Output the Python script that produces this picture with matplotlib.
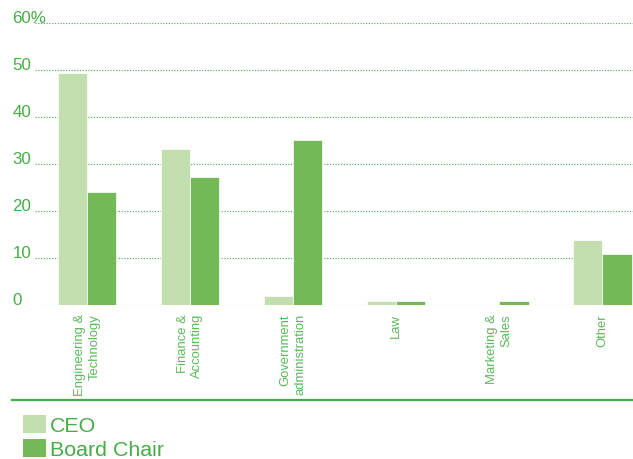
import matplotlib
matplotlib.use("Agg")
import matplotlib.pyplot as plt
import matplotlib.transforms as mtransforms
from matplotlib.patches import Rectangle
from matplotlib.lines import Line2D
import numpy as np

plt.rcParams['font.family'] = ['Liberation Sans', 'DejaVu Sans']

categories = ["Engineering &\nTechnology", "Finance &\nAccounting",
              "Government\nadministration", "Law", "Marketing &\nSales", "Other"]
ceo = [49.5, 33.3, 1.9, 1, 0, 13.9]
board_chair = [24.1, 27.2, 35.2, 1, 1, 10.9]
y_ticks = [0, 10, 20, 30, 40, 50, 60]
y_tick_labels = ["0", "10", "20", "30", "40", "50", "60%"]
series_names = ["CEO", "Board Chair"]

W, H = 633, 459
TEXT_GREEN = "#45ad45"
LABEL_GREEN = "#5ab85a"
CEO_COLOR = "#c3dfb0"
BC_COLOR = "#74b957"

fig = plt.figure(figsize=(W / 100, H / 100), dpi=100)

def fx(px):
    return px / W

def fy(py):
    return 1 - py / H

ax = fig.add_axes([fx(35), fy(305.3), fx(633) - fx(35), fy(23.3) - fy(305.3)])
x = np.arange(len(categories))
bw = 0.284
ax.bar(x - bw / 2, ceo, width=bw, color=CEO_COLOR, edgecolor="white", linewidth=0.5, zorder=3)
ax.bar(x + bw / 2, board_chair, width=bw, color=BC_COLOR, edgecolor="white", linewidth=0.5, zorder=3)
ax.set_xlim(-0.505, 5.298)
ax.set_ylim(0, 60)
ax.set_yticks(y_ticks)
ax.set_xticks([])
ax.tick_params(left=False, labelleft=False)
for s in ax.spines.values():
    s.set_visible(False)
for v in y_ticks:
    ax.axhline(v, color=TEXT_GREEN, linestyle=(0, (1, 1.5)), linewidth=0.8, zorder=1)

# y tick labels placed at the left edge of the figure
trans = mtransforms.blended_transform_factory(fig.transFigure, ax.transData)
for v, lab in zip(y_ticks, y_tick_labels):
    ax.text(fx(12.5), v + 0.15, lab, transform=trans, ha="left", va="baseline",
            fontsize=12.2, color=TEXT_GREEN, clip_on=False)

# rotated category labels under each group
ctrans = mtransforms.blended_transform_factory(ax.transData, fig.transFigure)
for xi, cat in zip(x, categories):
    ax.text(xi, fy(314), cat, transform=ctrans, rotation=90, ha="center", va="top",
            multialignment="right", fontsize=9.4, color=LABEL_GREEN, clip_on=False,
            linespacing=1.3)

# separator line above the legend
fig.add_artist(Line2D([fx(12), fx(633)], [fy(400), fy(400)], color=TEXT_GREEN,
                      linewidth=1.6, transform=fig.transFigure))

# legend entries
for (top, name, col) in [(415, series_names[0], CEO_COLOR), (439, series_names[1], BC_COLOR)]:
    fig.add_artist(Rectangle((fx(23), fy(top + 18)), fx(46) - fx(23), fy(top) - fy(top + 18),
                             transform=fig.transFigure, color=col, linewidth=0))
    fig.text(fx(50), fy(top + 16.5), name, ha="left", va="baseline", fontsize=15.4,
             color=TEXT_GREEN)

fig.savefig("out.png", dpi=100)
